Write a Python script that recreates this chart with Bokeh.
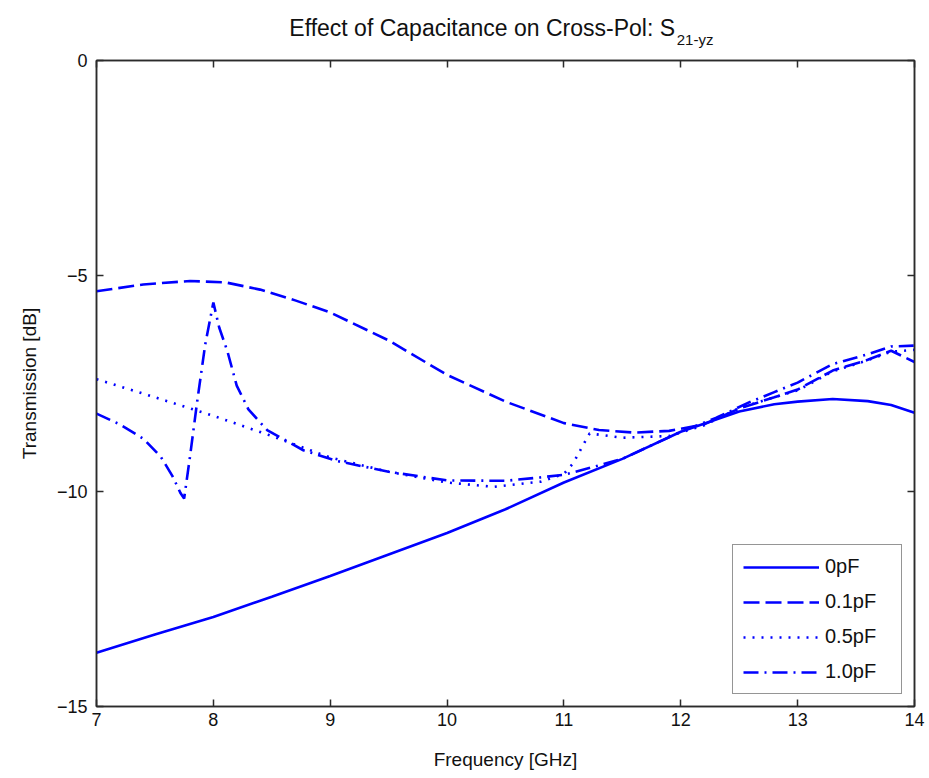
from bokeh.plotting import figure
from bokeh.layouts import column
from bokeh.models import (LinearAxis, FixedTicker, Legend, LegendItem,
                          Range1d)
from bokeh.core.properties import value
from bokeh.embed import file_html
from bokeh.resources import INLINE

# ---- data: transmission [dB] vs frequency [GHz] for each capacitance ----
freq_0pF = [7.0, 7.5, 8.0, 8.5, 9.0, 9.5, 10.0, 10.5, 11.0, 11.5, 12.0,
            12.5, 12.8, 13.0, 13.3, 13.6, 13.8, 14.0]
s21_0pF = [-13.75, -13.33, -12.92, -12.45, -11.97, -11.47, -10.97, -10.42,
           -9.80, -9.25, -8.62, -8.15, -7.98, -7.92, -7.86, -7.91, -8.0, -8.18]

freq_01pF = [7.0, 7.4, 7.8, 8.1, 8.4, 8.7, 9.0, 9.5, 10.0, 10.5, 11.0, 11.3,
             11.6, 11.9, 12.2, 12.5, 12.8, 13.0, 13.3, 13.6, 13.8, 14.0]
s21_01pF = [-5.36, -5.2, -5.12, -5.15, -5.32, -5.57, -5.85, -6.5, -7.3,
            -7.92, -8.42, -8.58, -8.64, -8.6, -8.45, -8.08, -7.82, -7.64,
            -7.2, -6.95, -6.74, -7.0]

freq_05pF = [7.0, 7.5, 8.0, 8.5, 9.0, 9.5, 10.0, 10.4, 10.8, 11.0, 11.08,
             11.15, 11.22, 11.5, 11.9, 12.2, 12.5, 12.8, 13.0, 13.3, 13.6,
             13.8, 14.0]
s21_05pF = [-7.4, -7.82, -8.25, -8.72, -9.22, -9.55, -9.8, -9.9, -9.78, -9.6,
            -9.35, -9.0, -8.66, -8.76, -8.72, -8.47, -8.07, -7.82, -7.66,
            -7.22, -6.96, -6.76, -6.72]

freq_10pF = [7.0, 7.2, 7.4, 7.55, 7.65, 7.72, 7.75, 7.8, 7.86, 7.93, 8.0,
             8.05, 8.12, 8.2, 8.3, 8.46, 8.77, 9.06, 9.5, 10.0, 10.5, 10.8,
             11.0, 11.1, 11.5, 12.0, 12.3, 12.6, 12.8, 13.0, 13.3, 13.6, 13.8,
             14.0]
s21_10pF = [-8.2, -8.45, -8.78, -9.2, -9.65, -10.05, -10.17, -9.2, -7.95,
            -6.6, -5.62, -6.2, -6.75, -7.55, -8.1, -8.58, -9.05, -9.3, -9.55,
            -9.75, -9.76, -9.68, -9.62, -9.55, -9.25, -8.62, -8.3, -7.92, -7.7,
            -7.48, -7.05, -6.82, -6.64, -6.62]

series_labels = ["0pF", "0.1pF", "0.5pF", "1.0pF"]
x_ticks = [7, 8, 9, 10, 11, 12, 13, 14]
y_ticks = [-15, -10, -5, 0]

title_text = "Effect of Capacitance on Cross-Pol: S"
title_subscript = "21-yz"

FONT = "Liberation Sans"
BLUE = "#0000ff"
AX = "#2b2b2b"
TXT = "#111111"
WIDTH = 929
HEIGHT = 778
TITLE_H = 49          # height of the title strip
FRAME_TOP = 60        # top edge of the plotting box, from the page top

# ---- title strip (main text plus lowered subscript) ----
t = figure(width=WIDTH, height=TITLE_H, x_range=Range1d(0, WIDTH),
           y_range=Range1d(0, TITLE_H), output_backend="svg",
           toolbar_location=None, min_border=0)
t.axis.visible = False
t.grid.visible = False
t.outline_line_color = None
t.background_fill_color = "white"
t.border_fill_color = "white"
t.text(x=[657], y=[TITLE_H - 27], text=[title_text], text_align="right",
       text_baseline="alphabetic", text_font=value(FONT),
       text_font_size="23px", text_color=TXT)
t.text(x=[659], y=[TITLE_H - 39], text=[title_subscript], text_align="left",
       text_baseline="alphabetic", text_font=value(FONT),
       text_font_size="15px", text_color=TXT)

# ---- main plot ----
p = figure(width=WIDTH, height=HEIGHT - TITLE_H, x_range=Range1d(7, 14),
           y_range=Range1d(-15, 0), output_backend="svg",
           toolbar_location=None, min_border_left=96, min_border_right=15,
           min_border_top=FRAME_TOP - TITLE_H, min_border_bottom=72)
p.grid.visible = False
p.background_fill_color = "white"
p.border_fill_color = "white"
p.outline_line_color = AX
p.outline_line_width = 1.5

# bottom / left axes with inward ticks
for ax, ticks in ((p.xaxis[0], x_ticks), (p.yaxis[0], y_ticks)):
    ax.ticker = FixedTicker(ticks=ticks)
    ax.major_tick_in = 7
    ax.major_tick_out = 0
    ax.minor_tick_line_color = None
    ax.axis_line_color = AX
    ax.axis_line_width = 1.5
    ax.major_tick_line_color = AX
    ax.major_tick_line_width = 1.5
    ax.major_label_text_font = FONT
    ax.major_label_text_font_size = "18px"
    ax.major_label_text_color = TXT
    ax.axis_label_text_font = FONT
    ax.axis_label_text_font_size = "19px"
    ax.axis_label_text_font_style = "normal"
    ax.axis_label_text_color = TXT

p.xaxis.axis_label = "Frequency [GHz]"
p.xaxis.major_label_standoff = 6
p.xaxis.axis_label_standoff = 20
p.yaxis.axis_label = "Transmission [dB]"
p.yaxis.major_label_standoff = 9
p.yaxis.axis_label_standoff = 14

# mirrored tick marks on the top and right edges of the box (no labels)
for side, ticks in (("above", x_ticks), ("right", y_ticks)):
    mirror = LinearAxis(ticker=FixedTicker(ticks=ticks),
                        major_label_text_font_size="1px",
                        major_label_text_color=None,
                        major_label_standoff=0,
                        major_tick_in=7, major_tick_out=0,
                        minor_tick_line_color=None,
                        axis_line_color=AX, axis_line_width=1.5,
                        major_tick_line_color=AX, major_tick_line_width=1.5)
    p.add_layout(mirror, side)

# curves
lw = 2.6
r0 = p.line(freq_0pF, s21_0pF, color=BLUE, line_width=lw)
r1 = p.line(freq_01pF, s21_01pF, color=BLUE, line_width=lw,
            line_dash="16 6")
r2 = p.line(freq_05pF, s21_05pF, color=BLUE, line_width=lw,
            line_dash="2 7")
r3 = p.line(freq_10pF, s21_10pF, color=BLUE, line_width=lw,
            line_dash="15 6 2 6")

legend = Legend(items=[LegendItem(label=lab, renderers=[r])
                       for lab, r in zip(series_labels, [r0, r1, r2, r3])],
                location="bottom_right")
legend.glyph_width = 76
legend.glyph_height = 20
legend.label_height = 20
legend.label_width = 66
legend.spacing = 12
legend.padding = 10
legend.margin = 12
legend.label_standoff = 6
legend.label_text_font = FONT
legend.label_text_font_size = "20px"
legend.label_text_color = TXT
legend.border_line_color = AX
legend.border_line_width = 1.5
legend.background_fill_color = "white"
legend.background_fill_alpha = 1.0
p.add_layout(legend)

layout = column(t, p, spacing=0)
open("out.html", "w").write(file_html(layout, INLINE))
